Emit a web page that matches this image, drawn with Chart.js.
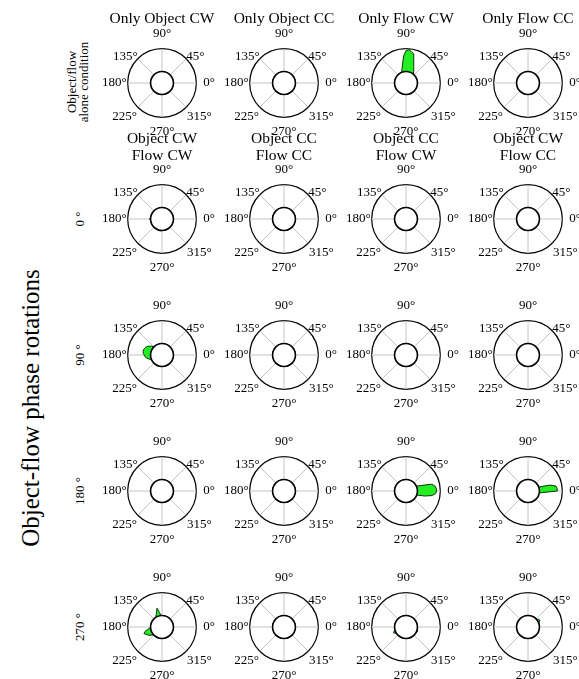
<!DOCTYPE html>
<html>
<head>
<meta charset="utf-8">
<script src="https://cdn.jsdelivr.net/npm/chart.js@4.4.1/dist/chart.umd.min.js"></script>
<style>
  html, body { margin: 0; padding: 0; background: #fff; }
  body { width: 579px; height: 679px; overflow: hidden; position: relative;
         font-family: 'Liberation Serif', 'Times New Roman', serif; color: #000; }
  canvas { position: absolute; }
  .title { position: absolute; width: 150px; text-align: center; font-size: 15.5px; line-height: 17px; white-space: nowrap; }
  .rot { position: absolute; transform: translate(-50%, -50%) rotate(-90deg); white-space: nowrap; text-align: center; }
</style>
</head>
<body>
<script>
// angular bins, degrees counter-clockwise from east
var binAngles = [0, 5, 10, 15, 20, 25, 30, 35, 40, 45, 50, 55, 60, 65, 70, 75, 80, 85,
    90, 95, 100, 105, 110, 115, 120, 125, 130, 135, 140, 145, 150, 155, 160, 165, 170, 175,
    180, 185, 190, 195, 200, 205, 210, 215, 220, 225, 230, 235, 240, 245, 250, 255, 260, 265,
    270, 275, 280, 285, 290, 295, 300, 305, 310, 315, 320, 325, 330, 335, 340, 345, 350, 355];

var topTitles = ['Only Object CW', 'Only Object CC', 'Only Flow CW', 'Only Flow CC'];
var pairTitles = [['Object CW', 'Flow CW'], ['Object CC', 'Flow CC'], ['Object CC', 'Flow CW'], ['Object CW', 'Flow CC']];
var rowLabels = ['0 °', '90 °', '180 °', '270 °'];

// [angle, value] pairs, every other bin is 0
var aloneFlowCw = [[55, .09], [60, .18], [65, .30], [70, .49], [75, .81], [80, .89], [85, .96],
    [90, .91], [95, .69], [100, .36], [105, .16], [110, .05]];
var rot0ObjCwFlowCw = [[180, .06], [255, .02], [260, .03], [265, .02]];
var rot90ObjCwFlowCw = [[140, .10], [145, .18], [150, .25], [155, .29], [160, .32], [165, .34],
    [170, .34], [175, .32], [180, .28], [185, .25], [190, .20], [195, .13], [200, .05]];
var rot180ObjCcFlowCw = [[20, .20], [15, .65], [10, .78], [5, .83], [0, .83], [355, .80],
    [350, .65], [345, .35], [340, .03]];
var rot180ObjCwFlowCc = [[20, .02], [15, .50], [10, .74], [5, .78], [0, .78], [355, .20]];
var rot270ObjCwFlowCw = [[100, .15], [105, .35], [110, .20], [115, .10], [120, .03],
    [185, .02], [190, .15], [195, .27], [200, .34], [205, .27], [210, .20], [215, .14], [220, .04]];
var rot270ObjCcFlowCw = [[200, .06], [205, .10], [210, .04], [335, .03], [340, .05]];
var rot270ObjCwFlowCc = [[25, .06], [30, .10], [35, .08], [40, .03], [45, .02], [50, .02],
    [55, .02], [60, .02], [65, .02]];

var panels = [
    [[], [], aloneFlowCw, []],
    [rot0ObjCwFlowCw, [], [], []],
    [rot90ObjCwFlowCw, [], [], []],
    [[], [], rot180ObjCcFlowCw, rot180ObjCwFlowCc],
    [rot270ObjCwFlowCw, [], rot270ObjCcFlowCw, rot270ObjCwFlowCc]
];

// layout
var colCenters = [162, 284, 406, 528];
var rowCenters = [83, 219, 355, 491, 627];
var labelPad = {'0°': 7, '180°': 1, '90°': 7.5, '270°': 6, '45°': 0, '135°': 0, '225°': 1, '315°': 1};
var labelLineHeight = {'45°': 0.3, '135°': 0.3, '225°': 1.35, '315°': 1.35};

// white hole in the middle with black rim
var holePlugin = {
    id: 'hole',
    afterDatasetsDraw: function(chart) {
        var s = chart.scales.r;
        var ctx = chart.ctx;
        ctx.save();
        ctx.beginPath();
        ctx.arc(s.xCenter, s.yCenter, s.getDistanceFromCenterForValue(0), 0, Math.PI * 2);
        ctx.fillStyle = '#fff';
        ctx.fill();
        ctx.lineWidth = 1.6;
        ctx.strokeStyle = '#000';
        ctx.stroke();
        ctx.restore();
    }
};

// radar goes clockwise, so feed bins in reverse angular order starting at east
var N = binAngles.length;
var chartAngles = binAngles.map(function(a, i) { return binAngles[(N - i) % N]; });

function addText(cls, text, x, y, css) {
    var d = document.createElement('div');
    d.className = cls;
    d.innerHTML = text;
    d.style.left = x + 'px';
    d.style.top = y + 'px';
    for (var k in css) d.style[k] = css[k];
    document.body.appendChild(d);
    return d;
}

function makePanel(row, col) {
    var pairs = panels[row][col];
    var lookup = {};
    pairs.forEach(function(p) { lookup[p[0]] = p[1]; });
    var values = chartAngles.map(function(a) { return lookup[a] || 0; });

    var canvas = document.createElement('canvas');
    canvas.width = 120;
    canvas.height = 120;
    document.body.appendChild(canvas);

    var chart = new Chart(canvas, {
        type: 'radar',
        data: {
            labels: chartAngles,
            datasets: [{
                data: values,
                backgroundColor: '#22ee22',
                borderColor: '#0b300b',
                borderWidth: 1,
                pointRadius: 0,
                tension: 0,
                fill: {value: 0}
            }]
        },
        options: {
            responsive: false,
            animation: false,
            events: [],
            plugins: { legend: {display: false}, tooltip: {enabled: false} },
            scales: {
                r: {
                    min: -0.5,
                    max: 1,
                    startAngle: 90,
                    ticks: { display: false, stepSize: 0.5 },
                    grid: {
                        circular: true,
                        color: function(ctx) { return ctx.tick && ctx.tick.value === 1 ? '#000' : 'rgba(0,0,0,0)'; },
                        lineWidth: 1.2
                    },
                    angleLines: {
                        color: '#c4c4c4',
                        lineWidth: function(ctx) { return ctx.label ? 1 : 0; }
                    },
                    pointLabels: {
                        color: '#000',
                        font: function(ctx) {
                            return { family: "'Liberation Serif', 'Times New Roman', serif", size: 13,
                                     lineHeight: labelLineHeight[ctx.label] || 1.2 };
                        },
                        padding: function(ctx) { return labelPad[ctx.label] || 0; },
                        callback: function(v) { return v % 45 === 0 ? v + '°' : ''; }
                    }
                }
            }
        },
        plugins: [holePlugin]
    });

    var s = chart.scales.r;
    canvas.style.left = (colCenters[col] - s.xCenter) + 'px';
    canvas.style.top = (rowCenters[row] - s.yCenter) + 'px';
}

for (var r = 0; r < rowCenters.length; r++) {
    for (var c = 0; c < colCenters.length; c++) {
        makePanel(r, c);
    }
}

// titles
topTitles.forEach(function(t, c) {
    addText('title', t, colCenters[c] - 75, 9, {});
});
pairTitles.forEach(function(t, c) {
    addText('title', t.join('<br>'), colCenters[c] - 75, 129, {});
});

// side labels
addText('rot', 'Object-flow phase rotations', 31, 408, {fontSize: '25px'});
addText('rot', 'Object/flow<br>alone condition', 78, 82, {fontSize: '13px', lineHeight: '12px'});
rowLabels.forEach(function(t, i) {
    addText('rot', t, 80, rowCenters[i + 1], {fontSize: '13px'});
});
</script>
</body>
</html>
